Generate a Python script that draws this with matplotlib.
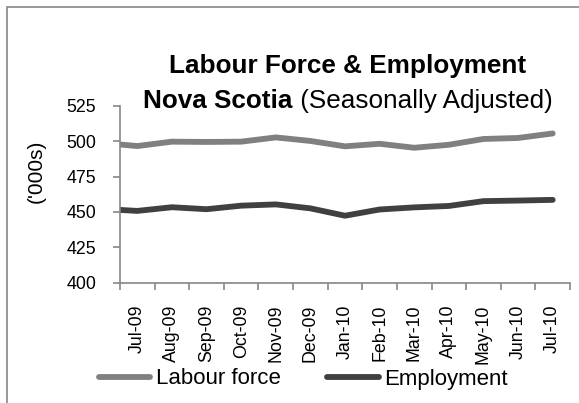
import matplotlib
matplotlib.use("Agg")
import matplotlib.pyplot as plt
from matplotlib.patches import Rectangle
from matplotlib.lines import Line2D
import numpy as np

plt.rcParams['font.family'] = ['Liberation Sans', 'DejaVu Sans']

months = ["Jul-09", "Aug-09", "Sep-09", "Oct-09", "Nov-09", "Dec-09", "Jan-10",
          "Feb-10", "Mar-10", "Apr-10", "May-10", "Jun-10", "Jul-10"]
labour_force = [496.5, 499.6, 499.4, 499.6, 502.6, 500.1, 496.3,
                498.1, 495.3, 497.4, 501.5, 502.2, 505.4]
employment = [450.7, 453.3, 451.9, 454.4, 455.3, 452.5, 447.3,
              451.7, 453.2, 454.2, 457.6, 458.0, 458.5]
# lead-in values where each line meets the value axis
labour_start = 497.6
employment_start = 451.4
yticks = [400, 425, 450, 475, 500, 525]

W, H = 579, 403
fig = plt.figure(figsize=(W / 100, H / 100), dpi=100)

ax = fig.add_axes([120 / W, 1 - 282.7 / H, (570 - 120) / W, (282.7 - 105.7) / H])

x = np.arange(len(months))
xl = np.concatenate([[-0.5], x])
c_lab = "#808080"
c_emp = "#404040"
ax.plot(xl, [labour_start] + labour_force, color=c_lab, lw=4.2,
        solid_capstyle='round', solid_joinstyle='round', label="Labour force")
ax.plot(xl, [employment_start] + employment, color=c_emp, lw=4.2,
        solid_capstyle='round', solid_joinstyle='round', label="Employment")

ax.set_xlim(-0.5, len(months) - 0.5)
ax.set_ylim(400, 525)
ax.set_yticks(yticks)
ax.set_yticklabels([str(v) for v in yticks], fontsize=12.8)
ax.set_xticks(x)
ax.set_xticklabels(months, rotation=90, fontsize=12.8, va='top', ha='center')
ax.set_xticks(np.arange(len(months) + 1) - 0.5, minor=True)
ax.tick_params(axis='x', which='major', length=0, pad=16)
ax.tick_params(axis='x', which='minor', length=5, width=1.2, color="#868686")
ax.tick_params(axis='y', length=5, width=1.2, color="#868686", pad=12)

for s in ['top', 'right']:
    ax.spines[s].set_visible(False)
for s in ['left', 'bottom']:
    ax.spines[s].set_color("#868686")
    ax.spines[s].set_linewidth(1.2)
ax.patch.set_alpha(0)

fig.text(36 / W, 1 - 171 / H, "('000s)", rotation=90, fontsize=15,
         ha='center', va='center')

# Title
fig.text(347.5 / W, 1 - 73 / H, "Labour Force & Employment", fontsize=18.8,
         fontweight='bold', ha='center', va='baseline')
t1 = fig.text(0, 1 - 108 / H, "Nova Scotia", fontsize=18.8, fontweight='bold',
              ha='left', va='baseline')
t2 = fig.text(0, 1 - 108 / H, " (Seasonally Adjusted)", fontsize=18.8,
              ha='left', va='baseline')
fig.canvas.draw()
r = fig.canvas.get_renderer()
w1 = t1.get_window_extent(r).width
w2 = t2.get_window_extent(r).width
x0 = 348 - (w1 + w2) / 2
t1.set_x(x0 / W)
t2.set_x((x0 + w1) / W)

# Legend
handles = [Line2D([], [], color=c_lab, lw=4.2, solid_capstyle='round'),
           Line2D([], [], color=c_emp, lw=4.2, solid_capstyle='round')]
fig.legend(handles, ["Labour force", "Employment"], ncol=2, frameon=False,
           loc='center', bbox_to_anchor=(303.5 / W, 1 - 379 / H),
           fontsize=16, handlelength=2.3, handletextpad=0.25,
           columnspacing=2.1, borderpad=0, borderaxespad=0)

# Chart border (cropped at right and bottom)
fig.patches.append(Rectangle((7.5 / W, -0.1), 1.2, 1.1 - 7.5 / H,
                             transform=fig.transFigure, fill=False,
                             edgecolor="#868686", lw=1.2))

fig.savefig("out.png", dpi=100)
